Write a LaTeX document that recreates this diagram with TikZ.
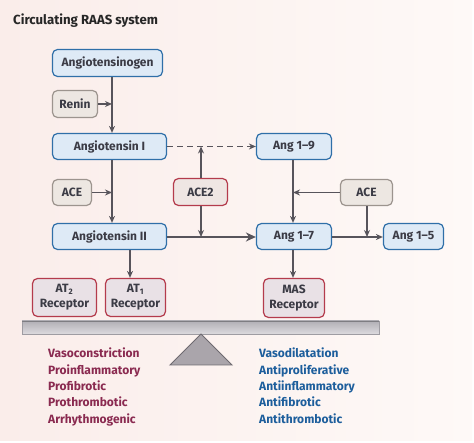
\documentclass[tikz,border=0pt]{standalone}
\usepackage{fontspec}
\setmainfont{Fira Sans}
\usetikzlibrary{arrows.meta,calc}
\definecolor{bgL}{HTML}{FAEDEA}
\definecolor{bgR}{HTML}{FEF9F7}
\definecolor{bfill}{HTML}{DEEAF6}
\definecolor{bborder}{HTML}{2F6FA8}
\definecolor{gfill}{HTML}{EDE7E2}
\definecolor{gborder}{HTML}{9C948E}
\definecolor{rfill}{HTML}{EFE6E3}
\definecolor{rborder}{HTML}{B43B4C}
\definecolor{recfill}{HTML}{E9E1E6}
\definecolor{txt}{HTML}{3B3B45}
\definecolor{arrc}{HTML}{57545B}
\definecolor{lred}{HTML}{8A2A50}
\definecolor{lblue}{HTML}{1D5E9C}
\definecolor{beamtop}{HTML}{B2B0B6}
\definecolor{beambot}{HTML}{DCDADE}
\definecolor{beamline}{HTML}{9E9CA2}
\definecolor{trifill}{HTML}{AAA5AB}
\definecolor{triline}{HTML}{6E6A70}
\begin{document}
\begin{tikzpicture}[x=1pt,y=-1pt,
  box/.style={rounded corners=5pt, line width=1.2pt, inner sep=0pt, align=center,
    font=\bfseries\fontsize{12}{15}\selectfont, text=txt},
  bluebox/.style={box, draw=bborder, fill=bfill},
  graybox/.style={box, draw=gborder, fill=gfill},
  redbox/.style={box, draw=rborder, fill=rfill},
  recbox/.style={box, draw=rborder, fill=recfill},
  arr/.style={draw=arrc, line width=1.3pt, -{Stealth[length=7pt,width=6pt]}},
  thickarr/.style={draw=arrc, line width=2.4pt, -{Stealth[length=10pt,width=9pt]}},
  dasharr/.style={draw=arrc, line width=1.3pt, dash pattern=on 6pt off 4pt, -{Stealth[length=7pt,width=6pt]}},
  effL/.style={anchor=base west, inner sep=0pt, text=lred, font=\bfseries\fontsize{12}{14}\selectfont},
  effR/.style={anchor=base west, inner sep=0pt, text=lblue, font=\bfseries\fontsize{12}{14}\selectfont}]
\useasboundingbox (0,0) rectangle (474,443);
\fill[white] (0,0) rectangle (474,443);
\shade[left color=bgL, right color=bgR] (0,0) rectangle (472,441);

\node[anchor=base west, inner sep=0pt, text=black!85, font=\bfseries\fontsize{13.2}{16}\selectfont] (title) at (13,25) {Circulating RAAS system};

% nodes
\node[bluebox, minimum width=110pt, minimum height=27pt] (agen) at (107.5,63) {Angiotensinogen};
\node[graybox, minimum width=45pt, minimum height=27pt] (renin) at (75,104) {Renin};
\node[bluebox, minimum width=114pt, minimum height=26pt] (ang1) at (109.5,146.5) {Angiotensin I};
\node[graybox, minimum width=39pt, minimum height=26pt] (ace1) at (72,192.5) {ACE};
\node[bluebox, minimum width=114pt, minimum height=26pt] (ang2) at (109.5,236.5) {Angiotensin II};
\node[redbox, minimum width=54pt, minimum height=27pt] (ace2) at (200.5,192) {ACE2};
\node[bluebox, minimum width=75pt, minimum height=26pt] (ang19) at (294,146.5) {Ang 1--9};
\node[bluebox, minimum width=75pt, minimum height=26pt] (ang17) at (294,236.5) {Ang 1--7};
\node[graybox, minimum width=52pt, minimum height=26pt] (ace3) at (366.5,192.5) {ACE};
\node[bluebox, minimum width=60pt, minimum height=26pt] (ang15) at (413.5,236.5) {Ang 1--5};
\node[recbox, minimum width=64pt, minimum height=38pt] (at2) at (64.5,297.5) {AT\textsubscript{2}\\Receptor};
\node[recbox, minimum width=60pt, minimum height=38pt] (at1) at (135.5,297.5) {AT\textsubscript{1}\\Receptor};
\node[recbox, minimum width=61pt, minimum height=39pt] (mas) at (294,298) {MAS\\Receptor};

% guide coordinates
\coordinate (vx) at (112,0);
\coordinate (ax) at (201,0);
\coordinate (a1x) at (130,0);
\coordinate (m7x) at (293,0);
\coordinate (c3x) at (367,0);
\coordinate (hy) at (0,237);

% connectors
\draw[arr] (agen.south -| vx) -- (ang1.north -| vx);
\draw[arr] (renin.east) -- (renin.east -| vx);
\draw[arr] (ang1.south -| vx) -- (ang2.north -| vx);
\draw[arr] (ace1.east) -- (ace1.east -| vx);
\draw[dasharr] (ang1.east) -- (ang19.west);
\draw[arr] (ace2.north -| ax) -- (ang1.east -| ax);
\draw[arr] (ace2.south -| ax) -- (hy -| ax);
\draw[thickarr] (ang2.east |- hy) -- (ang17.west |- hy);
\draw[arr] (ang19.south -| m7x) -- (ang17.north -| m7x);
\draw[arr] (ace3.west) -- (ace3.west -| m7x);
\draw[arr] (ang17.east |- hy) -- (ang15.west |- hy);
\draw[arr] (ace3.south -| c3x) -- (hy -| c3x);
\draw[arr] (ang2.south -| a1x) -- (at1.north -| a1x);
\draw[arr] (ang17.south -| m7x) -- (mas.north -| m7x);

% balance
\shade[top color=beamtop, bottom color=beambot] (22,321) rectangle (379,334);
\draw[beamline, line width=0.8pt] (22,321) rectangle (379,334);
\draw[beamline!80!black, line width=1pt] (22,321.5) -- (379,321.5);
\coordinate (apex) at (201,334);
\coordinate (bl) at (170,365);
\coordinate (br) at (232,365);
\filldraw[fill=trifill, draw=triline, line width=0.9pt, line join=miter] (apex) -- (br) -- (bl) -- cycle;

% effects
\node[effL] (l1) at (48,358) {Vasoconstriction};
\node[effL] (l2) at (48,374.3) {Proinflammatory};
\node[effL] (l3) at (48,390.6) {Profibrotic};
\node[effL] (l4) at (48,407) {Prothrombotic};
\node[effL] (l5) at (48,423.3) {Arrhythmogenic};
\node[effR] (r1) at (259,358) {Vasodilatation};
\node[effR] (r2) at (259,374.3) {Antiproliferative};
\node[effR] (r3) at (259,390.6) {Antiinflammatory};
\node[effR] (r4) at (259,407) {Antifibrotic};
\node[effR] (r5) at (259,423.3) {Antithrombotic};
\end{tikzpicture}
\end{document}
